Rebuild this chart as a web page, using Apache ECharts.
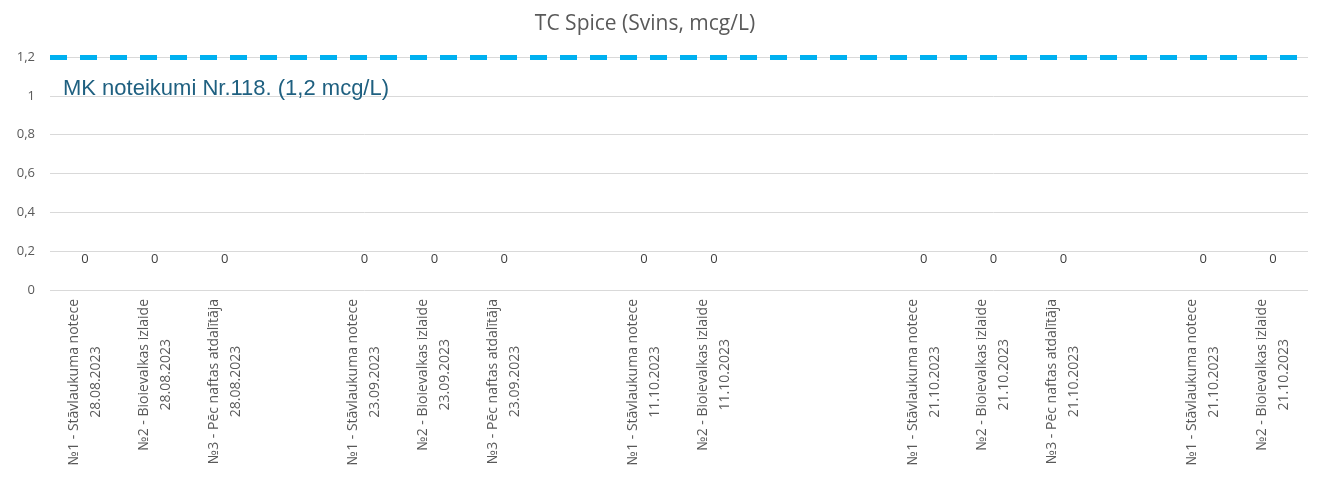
<!DOCTYPE html>
<html>
<head>
<meta charset="utf-8">
<script src="https://cdn.jsdelivr.net/npm/echarts@6/dist/echarts.min.js"></script>
<style>
  html, body { margin: 0; padding: 0; background: #fff; }
  #chart { width: 1319px; height: 488px; }
</style>
</head>
<body>
<div id="chart"></div>
<script>
// Sampling points (site + date); empty strings are spacer slots between sampling days
const categories = [
  '№1 - Stāvlaukuma notece\n28.08.2023',
  '№2 - Bioievalkas izlaide\n28.08.2023',
  '№3 - Pēc naftas atdalītāja\n28.08.2023',
  '',
  '№1 - Stāvlaukuma notece\n23.09.2023',
  '№2 - Bioievalkas izlaide\n23.09.2023',
  '№3 - Pēc naftas atdalītāja\n23.09.2023',
  '',
  '№1 - Stāvlaukuma notece\n11.10.2023',
  '№2 - Bioievalkas izlaide\n11.10.2023',
  '',
  '',
  '№1 - Stāvlaukuma notece\n21.10.2023',
  '№2 - Bioievalkas izlaide\n21.10.2023',
  '№3 - Pēc naftas atdalītāja\n21.10.2023',
  '',
  '№1 - Stāvlaukuma notece\n21.10.2023',
  '№2 - Bioievalkas izlaide\n21.10.2023'
];

// Measured lead (Pb) concentration, mcg/L
const leadValues = [0, 0, 0, null, 0, 0, 0, null, 0, 0, null, null, 0, 0, 0, null, 0, 0];

// Regulatory limit
const limitValue = 1.2;
const limitLabel = 'MK noteikumi Nr.118. (1,2 mcg/L)';

// Y axis scale
const yMin = 0;
const yMax = 1.2;
const yStep = 0.2;

const fmtComma = v => String(Number(v.toFixed(1))).replace('.', ',');

const chart = echarts.init(document.getElementById('chart'), null, { renderer: 'canvas' });

chart.setOption({
  animation: false,
  backgroundColor: '#ffffff',
  title: {
    text: 'TC Spice (Svins, mcg/L)',
    left: 640,
    top: 9,
    textAlign: 'center',
    textStyle: {
      fontFamily: '"Open Sans", sans-serif',
      fontSize: 21,
      fontWeight: 'normal',
      color: '#595959'
    }
  },
  grid: {
    left: 50,
    right: 11,
    top: 57,
    bottom: 198,
    containLabel: false
  },
  xAxis: {
    type: 'category',
    data: categories,
    boundaryGap: true,
    axisLine: { show: false },
    axisTick: { show: false },
    splitLine: { show: false },
    axisLabel: {
      interval: 0,
      rotate: 90,
      margin: 9,
      color: '#595959',
      fontFamily: '"Open Sans", sans-serif',
      fontSize: 14,
      lineHeight: 22,
      formatter: (value) => {
        if (!value) return '';
        return value.split('\n').map(line => '{c|' + line + '}').join('\n');
      },
      rich: {
        c: {
          align: 'center',
          color: '#595959',
          fontFamily: '"Open Sans", sans-serif',
          fontSize: 14,
          lineHeight: 22
        }
      }
    }
  },
  yAxis: {
    type: 'value',
    min: yMin,
    max: yMax,
    interval: yStep,
    axisLine: { show: false },
    axisTick: { show: false },
    splitLine: { lineStyle: { color: '#d9d9d9', width: 1 } },
    axisLabel: {
      margin: 15,
      color: '#595959',
      fontFamily: '"Open Sans", sans-serif',
      fontSize: 13,
      formatter: fmtComma
    }
  },
  series: [
    {
      name: 'Pb',
      type: 'bar',
      data: leadValues,
      barWidth: 30,
      itemStyle: { color: '#4472c4' },
      label: {
        show: true,
        position: 'top',
        distance: 24,
        color: '#404040',
        fontFamily: '"Open Sans", sans-serif',
        fontSize: 13,
        formatter: p => (p.value == null ? '' : fmtComma(p.value))
      },
      markLine: {
        silent: true,
        symbol: ['none', 'none'],
        lineStyle: {
          color: '#00b0f0',
          width: 5,
          type: [17, 13]
        },
        label: {
          show: true,
          position: 'insideStartBottom',
          distance: [13, 21],
          formatter: limitLabel,
          color: '#1f6080',
          fontFamily: '"Liberation Sans", Arial, sans-serif',
          fontSize: 22
        },
        data: [{ yAxis: limitValue }]
      }
    }
  ]
});
</script>
</body>
</html>
